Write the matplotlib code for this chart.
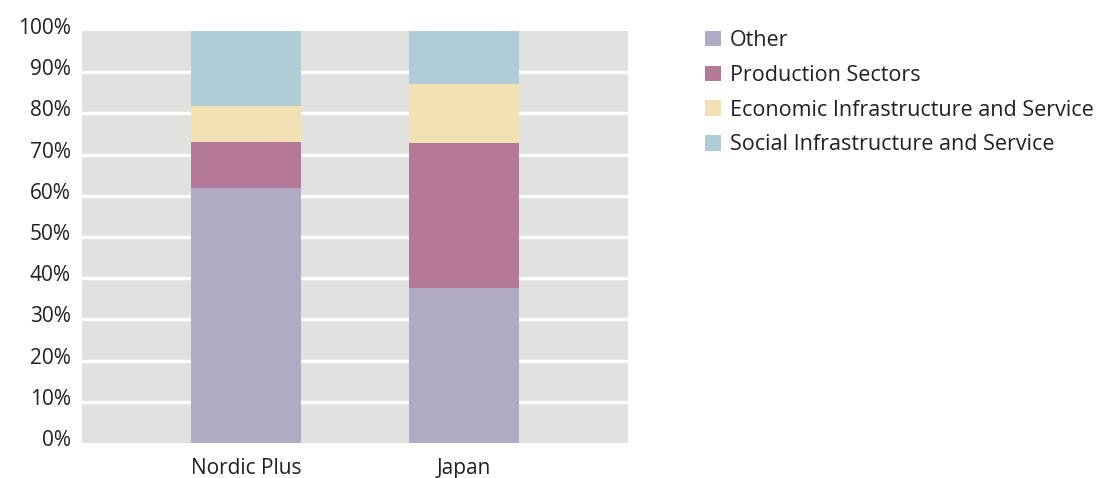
import matplotlib.pyplot as plt
import matplotlib.transforms as mtransforms
import numpy as np

plt.rcParams['font.family'] = ['Open Sans', 'DejaVu Sans']

# share of aid by sector (%)
donors = ["Nordic Plus", "Japan"]
sectors = ["Other", "Production Sectors", "Economic Infrastructure and Service",
           "Social Infrastructure and Service"]
other = [61.9, 37.6]
production = [11.2, 35.2]
economic = [8.7, 14.3]
social = [18.2, 12.9]
colors = ["#b0abc3", "#b47898", "#f2e2b3", "#b0ccd6"]

fig = plt.figure(figsize=(11.02, 4.78), dpi=100)
ax = fig.add_axes([0.0744, 0.0732, 0.4955, 0.8619])
ax.set_facecolor("#e1e1e0")

x = np.arange(len(donors))
bottom = np.zeros(len(donors))
for name, vals, c in zip(sectors, [other, production, economic, social], colors):
    ax.bar(x, vals, width=0.505, bottom=bottom, color=c, label=name, zorder=3)
    bottom += np.array(vals)

ax.set_xlim(-0.752, 1.752)
ax.set_ylim(0, 100)
ax.set_yticks(np.arange(0, 101, 10))
ax.set_yticklabels([f"{v}%" for v in range(0, 101, 10)])
ax.set_xticks(x)
ax.set_xticklabels(donors)

ax.yaxis.grid(True, color="white", linewidth=2.4, zorder=1)
ax.set_axisbelow(True)
glines = ax.get_ygridlines()
glines[0].set_visible(False)
glines[-1].set_visible(False)

for s in ax.spines.values():
    s.set_visible(False)
ax.tick_params(axis="both", length=0, labelsize=15, colors="#231f20")
ax.tick_params(axis="y", pad=8)
ax.tick_params(axis="x", pad=11)

# nudge percentage labels a little above their gridlines
shift = mtransforms.ScaledTranslation(0, 0.05, fig.dpi_scale_trans)
for lbl in ax.get_yticklabels():
    lbl.set_transform(lbl.get_transform() + shift)

ax.legend(loc="upper left", bbox_to_anchor=(0.6398, 0.937),
          bbox_transform=fig.transFigure, frameon=False, fontsize=15.5,
          handlelength=0.74, handleheight=0.74, handletextpad=0.4,
          labelspacing=0.64, borderaxespad=0, borderpad=0,
          labelcolor="#231f20")

fig.savefig("out.png", dpi=100)
